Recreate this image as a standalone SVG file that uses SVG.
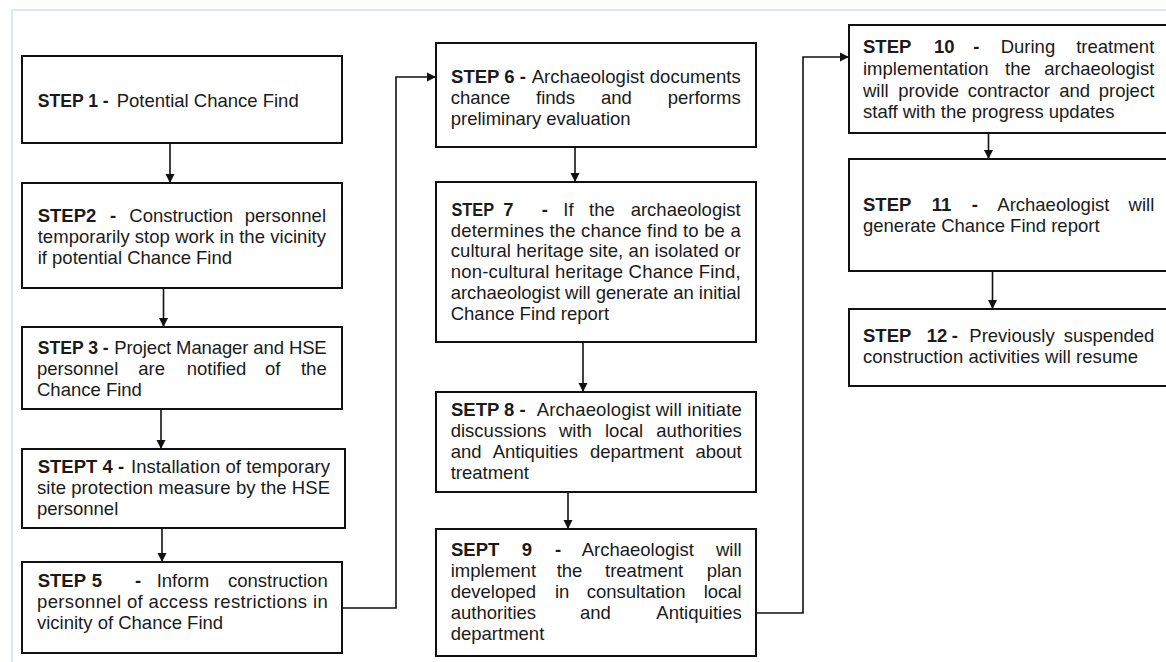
<svg xmlns="http://www.w3.org/2000/svg" width="1166" height="662" viewBox="0 0 1166 662">
<style>
.box{fill:#fff;stroke:#111;stroke-width:2}
.c{fill:none;stroke:#111;stroke-width:1.6}
.t{font-family:"Liberation Sans",Arial,sans-serif;font-size:18.5px;fill:#1a1a1a}
.b{font-weight:bold}
.e{text-anchor:end}
.frame{fill:none;stroke:#dde6f3;stroke-width:2}
</style>
<defs>
<marker id="ah" markerUnits="userSpaceOnUse" markerWidth="10" markerHeight="10" refX="9" refY="5" orient="auto">
<path d="M0,0.5 L9,5 L0,9.5 z" fill="#111"/>
</marker>
</defs>
<rect width="1166" height="662" fill="#fff"/>
<path class="frame" d="M12,662 V10 H1166"/>

<g id="connectors">
<path class="c" d="M170,143 V183" marker-end="url(#ah)"/>
<path class="c" d="M163.5,288 V327" marker-end="url(#ah)"/>
<path class="c" d="M161,410 V449" marker-end="url(#ah)"/>
<path class="c" d="M162,528 V562" marker-end="url(#ah)"/>
<path class="c" d="M342,608 H396 V77 H436" marker-end="url(#ah)"/>
<path class="c" d="M575,147 V182" marker-end="url(#ah)"/>
<path class="c" d="M583,342 V392" marker-end="url(#ah)"/>
<path class="c" d="M568,492 V529" marker-end="url(#ah)"/>
<path class="c" d="M756,613 H803 V57 H849" marker-end="url(#ah)"/>
<path class="c" d="M988.5,133 V159" marker-end="url(#ah)"/>
<path class="c" d="M992.5,271 V309" marker-end="url(#ah)"/>
</g>

<g id="step1">
<rect class="box" x="22" y="56" width="320" height="87"/>
<text class="t b" x="37.7" y="106.5" textLength="71" lengthAdjust="spacingAndGlyphs">STEP 1 -</text>
<text class="t" x="116.7" y="106.5" textLength="182" lengthAdjust="spacing">Potential Chance Find</text>
</g>

<g id="step2">
<rect class="box" x="22" y="183" width="320" height="105"/>
<text class="t b" x="37.7" y="221.5">STEP2</text>
<text class="t b" x="110" y="221.5">-</text>
<text class="t" x="129.3" y="221.5">Construction</text>
<text class="t e" x="326" y="221.5">personnel</text>
<text class="t" x="37.7" y="242.8" textLength="288.3" lengthAdjust="spacing">temporarily stop work in the vicinity</text>
<text class="t" x="37.7" y="264">if potential Chance Find</text>
</g>

<g id="step3">
<rect class="box" x="22" y="327" width="320" height="82"/>
<text class="t b" x="37.7" y="354" textLength="71" lengthAdjust="spacingAndGlyphs">STEP 3 -</text>
<text class="t" x="114.3" y="354" textLength="212.4" lengthAdjust="spacing">Project Manager and HSE</text>
<text class="t" x="37" y="375">personnel</text>
<text class="t" x="138.3" y="375">are</text>
<text class="t" x="186.7" y="375">notified</text>
<text class="t" x="265" y="375">of</text>
<text class="t e" x="326.7" y="375">the</text>
<text class="t" x="37" y="395.7">Chance Find</text>
</g>

<g id="step4">
<rect class="box" x="22" y="449" width="323" height="79"/>
<text class="t b" x="37.7" y="473.3">STEPT 4 -</text>
<text class="t" x="131" y="473.3" textLength="199" lengthAdjust="spacing">Installation of temporary</text>
<text class="t" x="37" y="494.3" textLength="293" lengthAdjust="spacing">site protection measure by the HSE</text>
<text class="t" x="37" y="515">personnel</text>
</g>

<g id="step5">
<rect class="box" x="22" y="562" width="320" height="91"/>
<text class="t b" x="37.7" y="586.7">STEP</text>
<text class="t b" x="91.7" y="586.7">5</text>
<text class="t b" x="135" y="586.7">-</text>
<text class="t" x="156.7" y="586.7">Inform</text>
<text class="t e" x="327.7" y="586.7">construction</text>
<text class="t" x="37" y="607.7" textLength="290.7" lengthAdjust="spacing">personnel of access restrictions in</text>
<text class="t" x="37" y="629">vicinity of Chance Find</text>
</g>

<g id="step6">
<rect class="box" x="436" y="43" width="320" height="104"/>
<text class="t b" x="451" y="83" textLength="75" lengthAdjust="spacingAndGlyphs">STEP 6 -</text>
<text class="t" x="531.7" y="83" textLength="209" lengthAdjust="spacing">Archaeologist documents</text>
<text class="t" x="450.7" y="104">chance</text>
<text class="t" x="536" y="104">finds</text>
<text class="t" x="601" y="104">and</text>
<text class="t e" x="740.7" y="104">performs</text>
<text class="t" x="450.7" y="125">preliminary evaluation</text>
</g>

<g id="step7">
<rect class="box" x="436" y="182" width="320" height="160"/>
<text class="t b" x="451.5" y="215.7" textLength="42.5" lengthAdjust="spacingAndGlyphs">STEP</text>
<text class="t b" x="503.3" y="215.7">7</text>
<text class="t b" x="541.7" y="215.7">-</text>
<text class="t" x="563.3" y="215.7">If</text>
<text class="t" x="589" y="215.7">the</text>
<text class="t e" x="740.7" y="215.7">archaeologist</text>
<text class="t" x="450.7" y="236.5" textLength="290" lengthAdjust="spacing">determines the chance find to be a</text>
<text class="t" x="450.7" y="257.3" textLength="290" lengthAdjust="spacing">cultural heritage site, an isolated or</text>
<text class="t" x="450.7" y="278.1" textLength="290" lengthAdjust="spacing">non-cultural heritage Chance Find,</text>
<text class="t" x="450.7" y="298.9" textLength="290" lengthAdjust="spacing">archaeologist will generate an initial</text>
<text class="t" x="450.7" y="319.7">Chance Find report</text>
</g>

<g id="step8">
<rect class="box" x="436" y="392" width="320" height="100"/>
<text class="t b" x="451" y="416">SETP 8 -</text>
<text class="t" x="536.7" y="416" textLength="205" lengthAdjust="spacing">Archaeologist will initiate</text>
<text class="t" x="450.7" y="437">discussions</text>
<text class="t" x="559" y="437">with</text>
<text class="t" x="605" y="437">local</text>
<text class="t e" x="741.7" y="437">authorities</text>
<text class="t" x="450.7" y="458.3">and</text>
<text class="t" x="492.7" y="458.3">Antiquities</text>
<text class="t" x="590" y="458.3">department</text>
<text class="t e" x="741.7" y="458.3">about</text>
<text class="t" x="450.7" y="479.3">treatment</text>
</g>

<g id="step9">
<rect class="box" x="436" y="529" width="320" height="127"/>
<text class="t b" x="451" y="555.7">SEPT</text>
<text class="t b" x="521.7" y="555.7">9</text>
<text class="t b" x="555" y="555.7">-</text>
<text class="t" x="581.7" y="555.7">Archaeologist</text>
<text class="t e" x="741.7" y="555.7">will</text>
<text class="t" x="450.7" y="576.7">implement</text>
<text class="t" x="556.7" y="576.7">the</text>
<text class="t" x="605" y="576.7">treatment</text>
<text class="t e" x="741.7" y="576.7">plan</text>
<text class="t" x="450.7" y="598">developed</text>
<text class="t" x="555" y="598">in</text>
<text class="t" x="586.7" y="598">consultation</text>
<text class="t e" x="741.7" y="598">local</text>
<text class="t" x="450.7" y="619.3">authorities</text>
<text class="t" x="580" y="619.3">and</text>
<text class="t e" x="741.7" y="619.3">Antiquities</text>
<text class="t" x="450.7" y="640">department</text>
</g>

<g id="step10">
<rect class="box" x="849" y="25" width="320" height="108"/>
<text class="t b" x="863" y="53.3">STEP</text>
<text class="t b" x="934" y="53.3">10</text>
<text class="t b" x="973.3" y="53.3">-</text>
<text class="t" x="1000.7" y="53.3">During</text>
<text class="t e" x="1154.3" y="53.3">treatment</text>
<text class="t" x="863" y="75">implementation</text>
<text class="t" x="1005" y="75">the</text>
<text class="t e" x="1154.3" y="75">archaeologist</text>
<text class="t" x="863" y="96.5">will</text>
<text class="t" x="898.3" y="96.5">provide</text>
<text class="t" x="967.7" y="96.5">contractor</text>
<text class="t" x="1059.3" y="96.5">and</text>
<text class="t e" x="1154.3" y="96.5">project</text>
<text class="t" x="863" y="117.5">staff with the progress updates</text>
</g>

<g id="step11">
<rect class="box" x="849" y="159" width="320" height="112"/>
<text class="t b" x="863" y="210.7">STEP</text>
<text class="t b" x="931.7" y="210.7">11</text>
<text class="t b" x="971.7" y="210.7">-</text>
<text class="t" x="997.3" y="210.7">Archaeologist</text>
<text class="t e" x="1154.3" y="210.7">will</text>
<text class="t" x="863" y="232.3">generate Chance Find report</text>
</g>

<g id="step12">
<rect class="box" x="849" y="309" width="320" height="77"/>
<text class="t b" x="863" y="341.7">STEP</text>
<text class="t b" x="926.7" y="341.7">12</text>
<text class="t b" x="951.7" y="341.7">-</text>
<text class="t" x="969.3" y="341.7">Previously</text>
<text class="t e" x="1154.3" y="341.7">suspended</text>
<text class="t" x="863" y="363.3" textLength="275" lengthAdjust="spacing">construction activities will resume</text>
</g>
</svg>
